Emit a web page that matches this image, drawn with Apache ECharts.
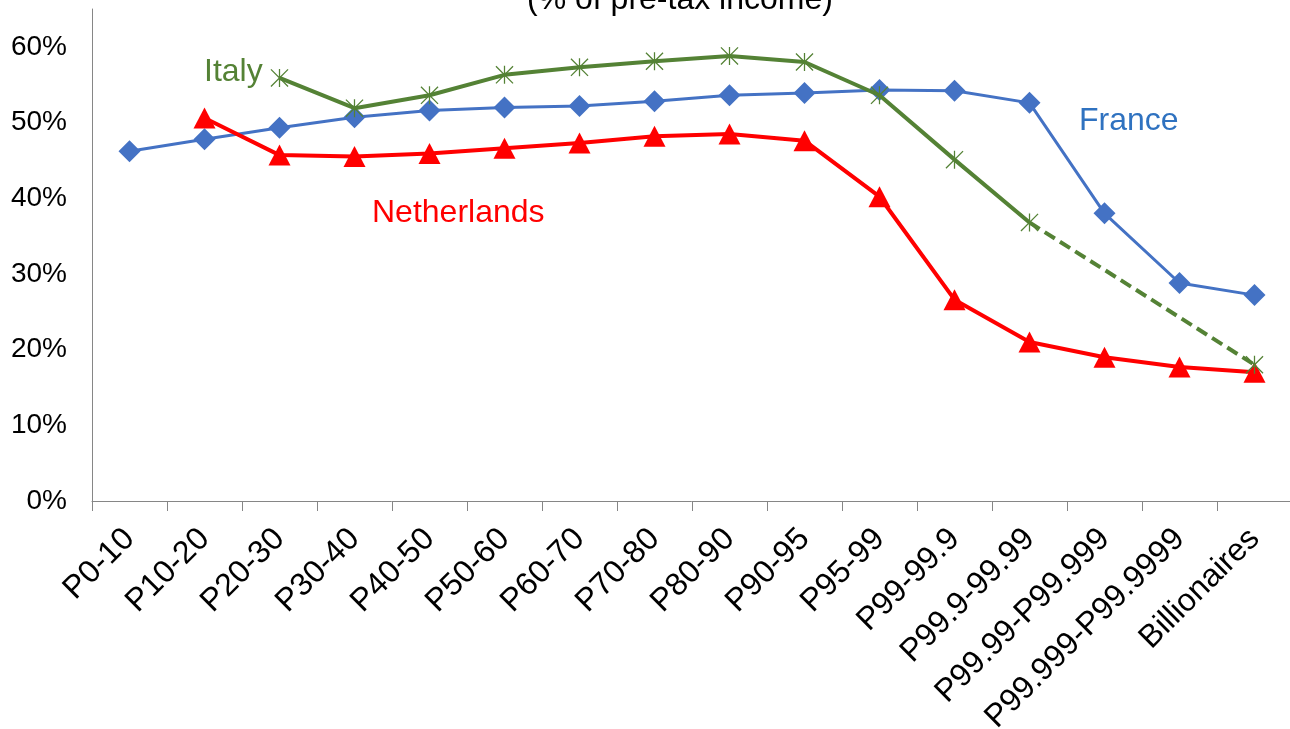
<!DOCTYPE html>
<html>
<head>
<meta charset="utf-8">
<script src="https://cdn.jsdelivr.net/npm/echarts@6/dist/echarts.min.js"></script>
<style>
  html, body { margin: 0; padding: 0; background: #ffffff; }
  #chart { width: 1290px; height: 729px; }
</style>
</head>
<body>
<div id="chart"></div>
<script>
// Income groups along the distribution
const categories = [
  'P0-10', 'P10-20', 'P20-30', 'P30-40', 'P40-50', 'P50-60', 'P60-70', 'P70-80',
  'P80-90', 'P90-95', 'P95-99', 'P99-99.9', 'P99.9-99.99', 'P99.99-P99.999',
  'P99.999-P99.9999', 'Billionaires'
];

// Tax rates, % of pre-tax income
const france = [46.2, 47.8, 49.3, 50.7, 51.6, 52.0, 52.2, 52.8, 53.6, 53.9, 54.3, 54.2, 52.6, 38.0, 28.8, 27.2];
const netherlands = [null, 50.6, 45.7, 45.5, 45.9, 46.6, 47.3, 48.2, 48.5, 47.6, 40.2, 26.6, 21.0, 19.0, 17.7, 17.0];
const italy = [null, null, 55.9, 51.9, 53.6, 56.3, 57.3, 58.1, 58.8, 58.0, 53.6, 45.1, 36.8, null, null, 18.0];
// Italy has no estimate for the two top groups before billionaires: bridged with a dashed line
const italyBridge = [null, null, null, null, null, null, null, null, null, null, null, null, 36.8, null, null, 18.0];

const yTicks = [0, 10, 20, 30, 40, 50, 60];

const FONT = "'Liberation Sans', Arial, sans-serif";
const BLUE = '#4472C4';
const GREEN = '#548235';
const RED = '#FF0000';

// Asterisk marker: vertical bar plus two diagonals
const starPath = 'path://M9.3 0 L10.7 0 L10.7 20 L9.3 20 Z ' +
  'M0 1 L1 0 L20 19 L19 20 Z M19 0 L20 1 L1 20 L0 19 Z';

const chart = echarts.init(document.getElementById('chart'), null, { renderer: 'canvas' });

chart.setOption({
  backgroundColor: '#ffffff',
  animation: false,
  grid: { left: 92, top: 9, width: 1200, height: 492, containLabel: false, outerBoundsMode: 'none' },
  xAxis: {
    type: 'category',
    data: categories,
    boundaryGap: true,
    axisLine: { lineStyle: { color: '#868686', width: 1 } },
    axisTick: { show: true, length: 10, alignWithLabel: false, lineStyle: { color: '#868686' } },
    axisLabel: {
      interval: 0,
      rotate: 45,
      margin: 33,
      color: '#000000',
      fontFamily: FONT,
      fontSize: 32
    },
    splitLine: { show: false }
  },
  yAxis: {
    type: 'value',
    min: 0,
    max: 65,
    interval: 10,
    axisLine: { show: true, lineStyle: { color: '#868686', width: 1 } },
    axisTick: { show: false },
    splitLine: { show: false },
    axisLabel: {
      margin: 25,
      color: '#000000',
      fontFamily: FONT,
      fontSize: 28,
      formatter: v => (yTicks.indexOf(v) >= 0 ? v + '%' : '')
    }
  },
  series: [
    {
      name: 'France',
      type: 'line',
      data: france,
      symbol: 'diamond',
      symbolSize: [22, 22],
      lineStyle: { color: BLUE, width: 3 },
      itemStyle: { color: BLUE },
      z: 2
    },
    {
      name: 'Netherlands',
      type: 'line',
      data: netherlands,
      symbol: 'triangle',
      symbolSize: [22, 21],
      lineStyle: { color: RED, width: 4 },
      itemStyle: { color: RED },
      z: 3
    },
    {
      name: 'Italy (bridge)',
      type: 'line',
      data: italyBridge,
      connectNulls: true,
      showSymbol: false,
      symbol: 'none',
      lineStyle: { color: GREEN, width: 4, type: [12, 6] },
      z: 4
    },
    {
      name: 'Italy',
      type: 'line',
      data: italy,
      connectNulls: false,
      symbol: starPath,
      symbolSize: 18,
      lineStyle: { color: GREEN, width: 4 },
      itemStyle: { color: GREEN },
      z: 5
    }
  ],
  graphic: [
    {
      type: 'text', left: 527, top: -16, z: 10,
      style: { text: '(% of pre-tax income)', font: '32px ' + FONT, fill: '#000000' }
    },
    {
      type: 'text', z: 10,
      style: { x: 204, y: 72, text: 'Italy', font: '32px ' + FONT, fill: GREEN, verticalAlign: 'middle' }
    },
    {
      type: 'text', z: 10,
      style: { x: 1079, y: 121, text: 'France', font: '32px ' + FONT, fill: '#2F72C0', verticalAlign: 'middle' }
    },
    {
      type: 'text', z: 10,
      style: { x: 372, y: 213, text: 'Netherlands', font: '32px ' + FONT, fill: RED, verticalAlign: 'middle' }
    }
  ]
});
</script>
</body>
</html>
